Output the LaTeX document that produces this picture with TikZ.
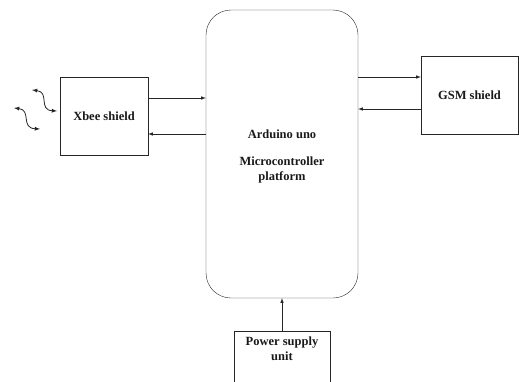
\documentclass[tikz,border=0pt]{standalone}
\usepackage{fontspec}
\setmainfont{Liberation Serif}
\tikzset{
  box/.style={draw, black!85, rectangle, inner sep=0pt},
  lbl/.style={font=\fontsize{12.5}{15}\selectfont\bfseries, align=center, text=black!90},
  link/.style={-latex, black!85, line width=0.6pt},
  wave/.style={latex-latex, black!85, line width=0.8pt}
}
\begin{document}
\begin{tikzpicture}[x=1pt, y=-1pt]
    \useasboundingbox (0, 0) rectangle (519, 381);

    % blocks
    \node[box, rounded corners=25pt, minimum width=152pt, minimum height=288pt] (main) at (282, 154) {};
    \node[box, minimum width=88pt, minimum height=78pt] (xbee) at (104, 116) {};
    \node[box, minimum width=97pt, minimum height=78pt] (gsm) at (469.5, 95) {};
    \node[box, minimum width=96pt, minimum height=60pt] (psu) at (282, 361) {};

    % texts
    \node[lbl] (xbeelbl) at (xbee) {Xbee shield};
    \node[lbl] (gsmlbl) at (gsm) {GSM shield};
    \node[lbl] (mainlbl) at (282, 156) {Arduino uno\\[12pt]Microcontroller\\platform};
    \node[lbl] (psulbl) at (282, 349) {Power supply\\unit};

    % connections
    \draw[link] ([yshift=18pt]xbee.east) -- ([yshift=18pt]xbee.east -| main.west);
    \draw[link] ([yshift=-18pt]xbee.east -| main.west) -- ([yshift=-18pt]xbee.east);
    \draw[link] ([yshift=18pt]gsm.west -| main.east) -- ([yshift=18pt]gsm.west);
    \draw[link] ([yshift=-14pt]gsm.west) -- ([yshift=-14pt]gsm.west -| main.east);
    \draw[link] (psu.north) -- (main.south);

    % radio waves
    \coordinate (w1a) at (32, 90);
    \coordinate (w1b) at (57, 111);
    \coordinate (w2a) at (14, 108);
    \coordinate (w2b) at (40, 129);
    \draw[wave] (w1a) .. controls (50, 92) and (38, 110) .. (w1b);
    \draw[wave] (w2a) .. controls (32, 110) and (20, 128) .. (w2b);

\end{tikzpicture}
\end{document}
